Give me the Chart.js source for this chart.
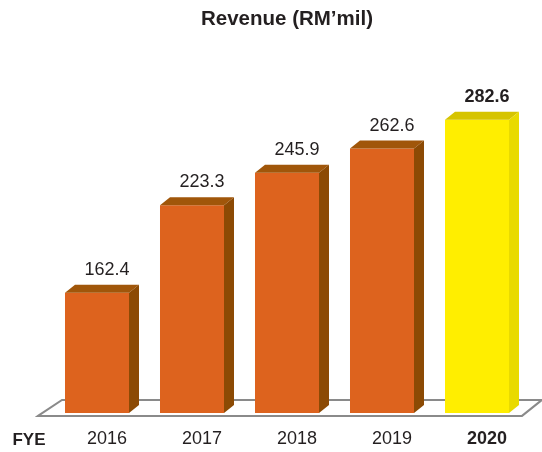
<!DOCTYPE html>
<html>
<head>
<meta charset="utf-8">
<script src="https://cdn.jsdelivr.net/npm/chart.js@4"></script>
<style>
  html, body { margin: 0; padding: 0; background: #ffffff; }
  #wrap { width: 542px; height: 452px; }
</style>
</head>
<body>
<div id="wrap"><canvas id="c" width="542" height="452"></canvas></div>
<script>
const categories = ['2016', '2017', '2018', '2019', '2020'];
const revenue = [162.4, 223.3, 245.9, 262.6, 282.6];
const chartTitle = 'Revenue (RM\u2019mil)';
const axisLabel = 'FYE';
const highlightIndex = 4;

const FONT = "'Liberation Sans', Arial, Helvetica, sans-serif";
const TEXT = '#231f20';
const frontColors = ['#dd631e', '#dd631e', '#dd631e', '#dd631e', '#ffee00'];
const topColors   = ['#a0560a', '#a0560a', '#a0560a', '#a0560a', '#d6c400'];
const sideColors  = ['#8c4a04', '#8c4a04', '#8c4a04', '#8c4a04', '#e9da00'];
const DX = 10, DY = 8;

const floorPlugin = {
  id: 'floor',
  beforeDatasetsDraw(chart) {
    const { ctx, chartArea } = chart;
    const base = chartArea.bottom;
    const fy = base + 3, by = base - 13;
    ctx.save();
    ctx.beginPath();
    ctx.moveTo(chartArea.left - 11.5, fy);
    ctx.lineTo(chartArea.left + 12.5, by);
    ctx.lineTo(chartArea.right + 17.5, by);
    ctx.lineTo(chartArea.right - 2.5, fy);
    ctx.closePath();
    ctx.fillStyle = '#ffffff';
    ctx.fill();
    ctx.strokeStyle = '#8a8a8a';
    ctx.lineWidth = 2;
    ctx.stroke();
    ctx.restore();
  }
};

const bar3dPlugin = {
  id: 'bar3d',
  afterDatasetsDraw(chart) {
    const { ctx, chartArea } = chart;
    const meta = chart.getDatasetMeta(0);
    ctx.save();
    meta.data.forEach((bar, i) => {
      const p = bar.getProps(['x', 'y', 'base', 'width'], true);
      const base = Math.min(p.base, chartArea.bottom);
      const l = p.x - p.width / 2, r = p.x + p.width / 2;
      // top face
      ctx.beginPath();
      ctx.moveTo(l, p.y);
      ctx.lineTo(l + DX, p.y - DY);
      ctx.lineTo(r + DX, p.y - DY);
      ctx.lineTo(r, p.y);
      ctx.closePath();
      ctx.fillStyle = topColors[i];
      ctx.fill();
      // side face
      ctx.beginPath();
      ctx.moveTo(r, p.y);
      ctx.lineTo(r + DX, p.y - DY);
      ctx.lineTo(r + DX, base - DY);
      ctx.lineTo(r, base);
      ctx.closePath();
      ctx.fillStyle = sideColors[i];
      ctx.fill();
      // value label
      ctx.fillStyle = TEXT;
      ctx.textAlign = 'center';
      ctx.textBaseline = 'alphabetic';
      ctx.font = (i === highlightIndex ? 'bold ' : '') + '18px ' + FONT;
      ctx.fillText(revenue[i].toFixed(1), p.x + DX, p.y - DY - 10);
    });
    // axis label
    ctx.fillStyle = TEXT;
    ctx.textAlign = 'center';
    ctx.textBaseline = 'alphabetic';
    ctx.font = 'bold 17px ' + FONT;
    ctx.fillText(axisLabel, 29, 445);
    ctx.restore();
  }
};

new Chart(document.getElementById('c'), {
  type: 'bar',
  data: {
    labels: categories,
    datasets: [{
      data: revenue,
      backgroundColor: frontColors,
      borderWidth: 0,
      categoryPercentage: 1,
      barPercentage: 0.6737
    }]
  },
  options: {
    responsive: false,
    animation: false,
    layout: { padding: { left: 49.5, right: 17.5, top: 0, bottom: 2.5 } },
    plugins: {
      legend: { display: false },
      tooltip: { enabled: false },
      title: {
        display: true,
        text: chartTitle,
        color: TEXT,
        font: { family: FONT, size: 20.5, weight: 'bold' },
        padding: { top: 6.7, bottom: 34.7 }
      }
    },
    scales: {
      x: {
        grid: { display: false, drawTicks: true, tickLength: 15 },
        border: { display: false },
        ticks: {
          padding: 0,
          labelOffset: 10,
          color: TEXT,
          font: (c) => ({ family: FONT, size: 18, weight: c.index === highlightIndex ? 'bold' : 'normal' })
        }
      },
      y: {
        display: false,
        min: 79,
        max: 320
      }
    }
  },
  plugins: [floorPlugin, bar3dPlugin]
});
</script>
</body>
</html>
